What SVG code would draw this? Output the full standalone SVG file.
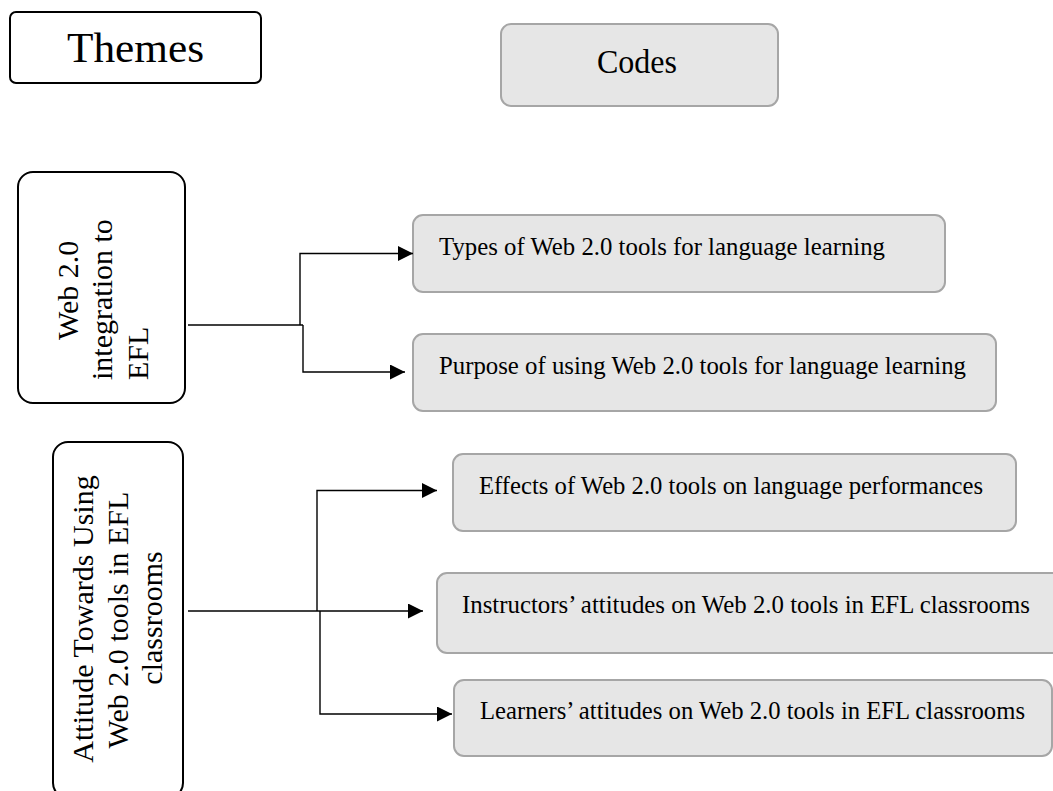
<svg xmlns="http://www.w3.org/2000/svg" width="1053" height="791" viewBox="0 0 1053 791">
<style>
.theme{fill:#ffffff;stroke:#000000;stroke-width:2}
.code{fill:#e6e6e6;stroke:#a6a6a6;stroke-width:2}
.t{font-family:"Liberation Serif","Times New Roman",serif;fill:#000000}
.ct{font-size:25px}
.rt{font-size:30px}
.conn{fill:none;stroke:#000000;stroke-width:1.4}
</style>
<defs>
<marker id="arr" markerUnits="userSpaceOnUse" markerWidth="15" markerHeight="15" refX="15" refY="7.5" orient="auto">
<path d="M0,0 L15,7.5 L0,15 Z" fill="#000000"/>
</marker>
</defs>
<rect width="1053" height="791" fill="#ffffff"/>
<g id="themes">
<rect class="theme" x="10" y="12" width="251" height="71" rx="6"/>
<text class="t" x="135.5" y="62" font-size="42" text-anchor="middle" textLength="137" lengthAdjust="spacingAndGlyphs">Themes</text>
</g>
<g id="codes">
<rect class="code" x="501" y="24" width="277" height="82" rx="10"/>
<text class="t" x="637" y="73" font-size="34" text-anchor="middle" textLength="80" lengthAdjust="spacingAndGlyphs">Codes</text>
</g>
<g id="theme1">
<rect class="theme" x="18" y="172" width="167" height="231" rx="15"/>
<text class="t rt" transform="translate(78,340) rotate(-90)">Web 2.0</text>
<text class="t rt" transform="translate(112,380) rotate(-90)">integration to</text>
<text class="t rt" transform="translate(148,380) rotate(-90)">EFL</text>
</g>
<g id="theme2">
<rect class="theme" x="53" y="442" width="130" height="356" rx="15"/>
<text class="t rt" transform="translate(93,619) rotate(-90)" text-anchor="middle">Attitude Towards Using</text>
<text class="t rt" transform="translate(128,620) rotate(-90)" text-anchor="middle">Web 2.0 tools in EFL</text>
<text class="t rt" transform="translate(162,618) rotate(-90)" text-anchor="middle">classrooms</text>
</g>
<g id="code1">
<rect class="code" x="413" y="215" width="532" height="77" rx="10"/>
<text class="t ct" x="439" y="255" textLength="446" lengthAdjust="spacingAndGlyphs">Types of Web 2.0 tools for language learning</text>
</g>
<g id="code2">
<rect class="code" x="413" y="334" width="583" height="77" rx="10"/>
<text class="t ct" x="439" y="374" textLength="527" lengthAdjust="spacingAndGlyphs">Purpose of using Web 2.0 tools for language learning</text>
</g>
<g id="code3">
<rect class="code" x="453" y="454" width="563" height="77" rx="10"/>
<text class="t ct" x="479" y="494" textLength="504" lengthAdjust="spacingAndGlyphs">Effects of Web 2.0 tools on language performances</text>
</g>
<g id="code4">
<rect class="code" x="437" y="573" width="640" height="80" rx="10"/>
<text class="t ct" x="462" y="613" textLength="568" lengthAdjust="spacingAndGlyphs">Instructors’ attitudes on Web 2.0 tools in EFL classrooms</text>
</g>
<g id="code5">
<rect class="code" x="454" y="680" width="598" height="76" rx="10"/>
<text class="t ct" x="480" y="719" textLength="545" lengthAdjust="spacingAndGlyphs">Learners’ attitudes on Web 2.0 tools in EFL classrooms</text>
</g>
<g id="connectors">
<path class="conn" d="M188,325 H303"/>
<path class="conn" d="M300,325 V253.5 H413" marker-end="url(#arr)"/>
<path class="conn" d="M303,325 V372 H405" marker-end="url(#arr)"/>
<path class="conn" d="M188,611 H423" marker-end="url(#arr)"/>
<path class="conn" d="M317,611 V490.5 H437" marker-end="url(#arr)"/>
<path class="conn" d="M320,611 V714 H452" marker-end="url(#arr)"/>
</g>
</svg>
